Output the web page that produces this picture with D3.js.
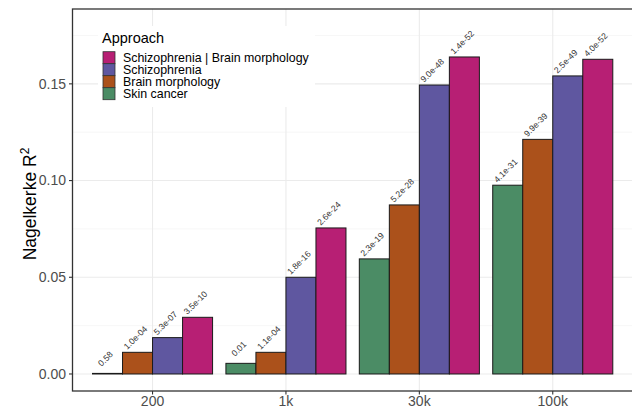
<!DOCTYPE html>
<html>
<head>
<meta charset="utf-8">
<script src="https://cdn.jsdelivr.net/npm/d3@7"></script>
<style>
  body { margin: 0; background: #fff; }
  svg { display: block; font-family: "Liberation Sans", Arial, sans-serif; }
</style>
</head>
<body>
<svg id="chart" width="632" height="407"></svg>
<script>
const sizes = ["200", "1k", "30k", "100k"];
const approaches = ["Skin cancer", "Brain morphology", "Schizophrenia", "Schizophrenia | Brain morphology"];
const legendOrder = ["Schizophrenia | Brain morphology", "Schizophrenia", "Brain morphology", "Skin cancer"];
const colors = ["#4b8c65", "#ab511b", "#5f57a0", "#b71f74"];

// R2 values per approach, in the order of sizes
const skinCancer = [0.0003, 0.0055, 0.0595, 0.0976];
const brainMorph = [0.0112, 0.0112, 0.0874, 0.1213];
const schizo = [0.0188, 0.0500, 0.1494, 0.1541];
const schizoBrain = [0.0293, 0.0755, 0.1639, 0.1627];

const pSkin = ["0.58", "0.01", "2.3e-19", "4.1e-31"];
const pBrain = ["1.0e-04", "1.1e-04", "5.2e-28", "9.9e-39"];
const pSchizo = ["5.3e-07", "1.8e-16", "9.0e-48", "2.5e-49"];
const pSchizoBrain = ["3.5e-10", "2.6e-24", "1.4e-52", "4.0e-52"];

const yTicks = [0, 0.05, 0.10, 0.15];
const yMinor = [0.025, 0.075, 0.125, 0.175];

const values = [skinCancer, brainMorph, schizo, schizoBrain];
const pvals = [pSkin, pBrain, pSchizo, pSchizoBrain];

const rows = [];
sizes.forEach((s, i) => {
  approaches.forEach((a, j) => {
    rows.push({ size: s, approach: a, value: values[j][i], p: pvals[j][i] });
  });
});

const svg = d3.select("#chart");
const pLeft = 72.5, pRight = 632.8, pTop = 9, pBottom = 391;

const x = d3.scalePoint().domain(sizes).range([pLeft, pRight]).padding(0.6);
const step = x.step();
const xs = d3.scaleBand().domain(approaches).range([-step * 0.45, step * 0.45]);
const y = d3.scaleLinear().domain([-0.0088, 0.1887]).range([pBottom, pTop]);
const color = d3.scaleOrdinal().domain(approaches).range(colors);

// grid
const grid = svg.append("g");
grid.selectAll(".minor").data(yMinor).enter().append("line")
  .attr("x1", pLeft).attr("x2", pRight)
  .attr("y1", d => y(d)).attr("y2", d => y(d))
  .attr("stroke", "#f2f2f2").attr("stroke-width", 0.6);
grid.selectAll(".major").data(yTicks).enter().append("line")
  .attr("x1", pLeft).attr("x2", pRight)
  .attr("y1", d => y(d)).attr("y2", d => y(d))
  .attr("stroke", "#ebebeb").attr("stroke-width", 1.1);
grid.selectAll(".vmajor").data(sizes).enter().append("line")
  .attr("x1", d => x(d)).attr("x2", d => x(d))
  .attr("y1", pTop).attr("y2", pBottom)
  .attr("stroke", "#ebebeb").attr("stroke-width", 1.1);

// bars
svg.append("g").selectAll("rect").data(rows).enter().append("rect")
  .attr("x", d => x(d.size) + xs(d.approach))
  .attr("width", xs.bandwidth())
  .attr("y", d => Math.min(y(d.value), y(0)))
  .attr("height", d => Math.abs(y(0) - y(d.value)))
  .attr("fill", d => color(d.approach))
  .attr("stroke", "#1a1a1a")
  .attr("stroke-width", 1);

// p-value labels, centred above each bar at 45 degrees
svg.append("g").selectAll("text").data(rows).enter().append("text")
  .attr("transform", d => {
    const cx = x(d.size) + xs(d.approach) + xs.bandwidth() / 2;
    return `translate(${cx},${y(d.value) - 12.5}) rotate(-45)`;
  })
  .attr("text-anchor", "middle")
  .attr("font-size", 8.6)
  .attr("fill", "#333")
  .text(d => d.p);

// legend
const lg = svg.append("g");
lg.append("rect").attr("x", 98).attr("y", 26).attr("width", 217).attr("height", 81).attr("fill", "#fff");
lg.append("text").attr("x", 102).attr("y", 43).attr("font-size", 14.5).attr("fill", "#000").text("Approach");
legendOrder.forEach((a, i) => {
  const ky = 51.7 + i * 12;
  lg.append("rect").attr("x", 103).attr("y", ky).attr("width", 12).attr("height", 12)
    .attr("fill", color(a)).attr("stroke", "#333").attr("stroke-width", 0.8);
  lg.append("text").attr("x", 123).attr("y", ky + 6).attr("dy", "0.35em")
    .attr("font-size", 12.4).attr("fill", "#000").text(a);
});

// panel border
svg.append("rect").attr("x", pLeft).attr("y", pTop).attr("width", pRight - pLeft).attr("height", pBottom - pTop)
  .attr("fill", "none").attr("stroke", "#333").attr("stroke-width", 1.3);

// y axis
const yAxis = svg.append("g");
yTicks.forEach(t => {
  yAxis.append("line").attr("x1", pLeft - 3.5).attr("x2", pLeft).attr("y1", y(t)).attr("y2", y(t))
    .attr("stroke", "#333").attr("stroke-width", 1.1);
  yAxis.append("text").attr("x", pLeft - 6.5).attr("y", y(t)).attr("dy", "0.35em")
    .attr("text-anchor", "end").attr("font-size", 14).attr("fill", "#4d4d4d").text(d3.format(".2f")(t));
});

// x axis
const xAxis = svg.append("g");
sizes.forEach(s => {
  xAxis.append("line").attr("x1", x(s)).attr("x2", x(s)).attr("y1", pBottom).attr("y2", pBottom + 3.5)
    .attr("stroke", "#333").attr("stroke-width", 1.1);
  xAxis.append("text").attr("x", x(s)).attr("y", 405.5).attr("text-anchor", "middle")
    .attr("font-size", 14).attr("fill", "#4d4d4d").text(s);
});

// y title
const yt = svg.append("text")
  .attr("transform", `translate(36,${(pTop + pBottom) / 2 + 4}) rotate(-90)`)
  .attr("text-anchor", "middle").attr("font-size", 17.5).attr("fill", "#000");
yt.append("tspan").text("Nagelkerke R");
yt.append("tspan").attr("font-size", 12).attr("dy", -7).text("2");
</script>
</body>
</html>
